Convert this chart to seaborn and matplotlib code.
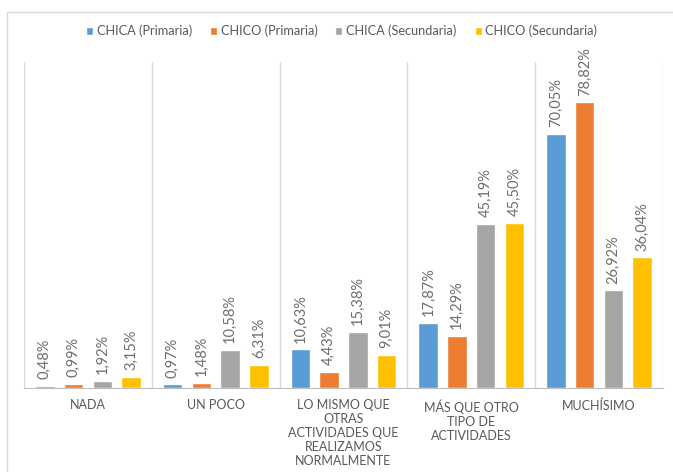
import numpy as np
import pandas as pd
import matplotlib
matplotlib.use('Agg')
import matplotlib.pyplot as plt
import seaborn as sns
from matplotlib.patches import Rectangle

categorias = ['NADA', 'UN POCO',
              'LO MISMO QUE\nOTRAS\nACTIVIDADES QUE\nREALIZAMOS\nNORMALMENTE',
              'MÁS QUE OTRO\nTIPO DE\nACTIVIDADES', 'MUCHÍSIMO']
series = ['CHICA (Primaria)', 'CHICO (Primaria)', 'CHICA (Secundaria)', 'CHICO (Secundaria)']
chica_primaria = [0.48, 0.97, 10.63, 17.87, 70.05]
chico_primaria = [0.99, 1.48, 4.43, 14.29, 78.82]
chica_secundaria = [1.92, 10.58, 15.38, 45.19, 26.92]
chico_secundaria = [3.15, 6.31, 9.01, 45.50, 36.04]
colores = ['#5B9BD5', '#ED7D31', '#A5A5A5', '#FFC000']

df = pd.DataFrame({
    'cat': categorias * 4,
    'serie': np.repeat(series, 5),
    'valor': chica_primaria + chico_primaria + chica_secundaria + chico_secundaria,
})

sns.set_style('white')
plt.rcParams['font.family'] = ['Lato', 'DejaVu Sans']
gris = '#595959'

fig = plt.figure(figsize=(6.73, 4.72), dpi=100)
ax = fig.add_axes([24 / 673, 84 / 472, 639 / 673, 326 / 472])

sns.barplot(data=df, x='cat', y='valor', hue='serie', palette=colores,
            width=0.9, gap=0.32, ax=ax, saturation=1, legend=True)

for c in ax.containers:
    ax.bar_label(c, fmt=lambda v: f'{v:.2f}%'.replace('.', ','), rotation=90,
                 padding=5, fontsize=10.5, color='#6E6E6E')

ax.set_ylim(0, 90)
ax.set_xlim(-0.5, 4.5)
ax.set_xlabel('')
ax.set_ylabel('')
ax.set_yticks([])
ax.tick_params(axis='x', length=0, pad=8, labelsize=9, labelcolor=gris)
for lbl in ax.get_xticklabels():
    lbl.set_linespacing(1.2)

for x in np.arange(-0.5, 5, 1):
    ax.axvline(x, color='#D9D9D9', lw=1, zorder=0)
for s in ['top', 'right', 'left']:
    ax.spines[s].set_visible(False)
ax.spines['bottom'].set_color('#BFBFBF')

ax.legend(loc='center', bbox_to_anchor=(0.497, 1.095), ncol=4, frameon=False,
          fontsize=9.2, handlelength=0.55, handleheight=0.55, handletextpad=0.3,
          columnspacing=1.4, labelcolor=gris)

fig.patches.append(Rectangle((7 / 673, -0.1), 1.2, (472 - 12) / 472 + 0.1,
                             transform=fig.transFigure, fill=False,
                             edgecolor='#D9D9D9', lw=1))

fig.savefig('out.png', dpi=100)
